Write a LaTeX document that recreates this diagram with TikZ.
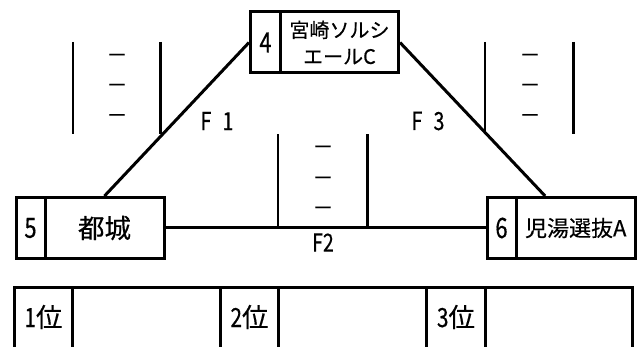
\documentclass[tikz,border=0pt]{standalone}
\usepackage{fontspec}
\usetikzlibrary{calc}
\setmainfont{Noto Sans CJK JP}[FakeBold=0.4]
\newfontfamily\narrowfont[FakeStretch=0.78,FakeBold=0.5]{Noto Sans CJK JP}
\begin{document}
\begin{tikzpicture}[x=1pt,y=-1pt,
  line width=3pt,
  cell/.style={draw, line width=3pt, minimum height=61pt, inner sep=0pt, anchor=north west},
  numtxt/.style={font=\narrowfont\fontsize{28}{28}\selectfont},
  bar/.style={line width=2.4pt},
  dashmark/.style={font=\fontsize{21}{21}\selectfont, inner sep=0pt},
  flabel/.style={font=\narrowfont\fontsize{25}{25}\selectfont, inner sep=0pt},
  rankcell/.style={font=\fontsize{26.5}{26.5}\selectfont, inner sep=0pt}
]
\useasboundingbox (0,0) rectangle (643,347);
% top box
\node[cell, minimum width=30pt, numtxt] (n4) at (249,10.5) {4};
\node[cell, minimum width=118pt, font=\fontsize{20}{26.5}\selectfont, align=center] (t4) at (279,10.5) {宮崎ソルシ\\エールC};
% left box
\node[cell, minimum width=29pt, numtxt] (n5) at (14.5,196) {5};
\node[cell, minimum width=119pt, font=\fontsize{26.5}{26.5}\selectfont] (t5) at (43.5,196) {都城};
% right box
\node[cell, minimum width=29pt, numtxt] (n6) at (485.5,196) {6};
\node[cell, minimum width=119.5pt, font=\fontsize{22}{22}\selectfont] (t6) at (514.5,196) {児湯選抜A};
% connectors
\coordinate (r6) at ($(t6.north west)!0.25!(t6.north east)$);
\draw (n4.west) -- (t5.north);
\draw (t4.east) -- (r6);
\draw (t5.east) -- (n6.west);
% bars
\draw[bar] (73,42) -- (73,134.5);
\draw[bar] (160.5,42) -- (160.5,134.5);
\draw[bar] (485,42) -- (485,134.5);
\draw[bar] (573.5,42) -- (573.5,134.5);
\draw[bar] (278,134.5) -- (278,226);
\draw[bar] (367.5,134.5) -- (367.5,226);
% dashes
\foreach \yy/\nm in {58.3/a,88.3/b,118.5/c}{
  \node[dashmark] (dl\nm) at (117,\yy) {－};
  \node[dashmark] (dr\nm) at (530,\yy) {－};
}
\foreach \yy/\nm in {150/a,181/b,211/c}{
  \node[dashmark] (dm\nm) at (323,\yy) {－};
}
% labels
\node[flabel] (f1) at (217,121) {F\hspace{0.45em}1};
\node[flabel] (f3) at (428,121) {F\hspace{0.45em}3};
\node[flabel] (f2) at (323,242.5) {F2};
% bottom table
\draw (14.5,347) -- (14.5,287.5) -- (632.5,287.5) -- (632.5,347);
\foreach \xx in {72.7,220.7,278,426.7,485.7}{
  \draw (\xx,287.5) -- (\xx,347);
}
\node[rankcell] (r1) at (43.5,317) {{\narrowfont 1}位};
\node[rankcell] (r2) at (249.5,317) {{\narrowfont 2}位};
\node[rankcell] (r3) at (456,317) {{\narrowfont 3}位};
\end{tikzpicture}
\end{document}
